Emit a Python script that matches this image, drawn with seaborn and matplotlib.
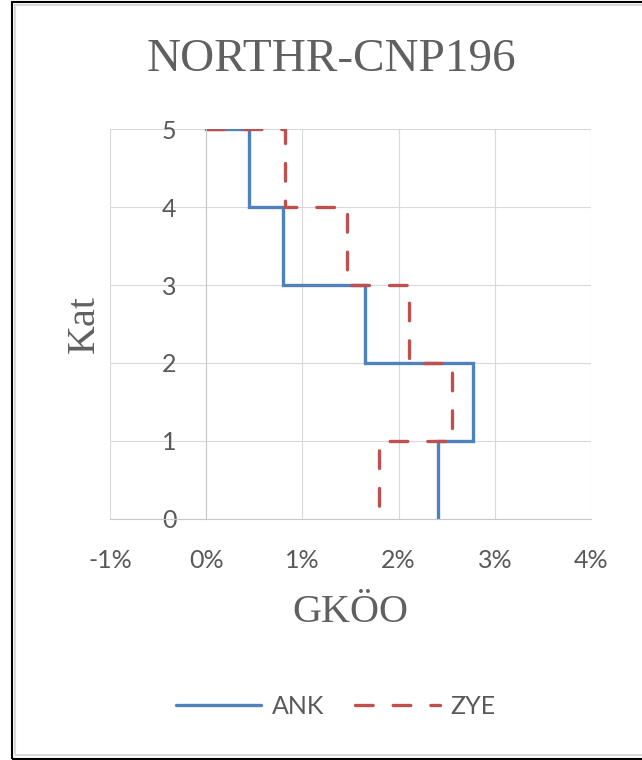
import numpy as np
import pandas as pd
import matplotlib
matplotlib.use("Agg")
import matplotlib.pyplot as plt
import seaborn as sns
from matplotlib.patches import Rectangle
from matplotlib.ticker import FuncFormatter

# Story levels (floor boundaries) and story drift ratios (%) for stories 1..5
stories = [0, 1, 2, 3, 4, 5]
ank = [2.41, 2.77, 1.65, 0.80, 0.45]
zye = [1.80, 2.56, 2.11, 1.465, 0.815]
series_names = ["ANK", "ZYE"]
x_ticks = [-1, 0, 1, 2, 3, 4]
y_ticks = [0, 1, 2, 3, 4, 5]

title = "NORTHR-CNP196"
x_label = "GKÖO"
y_label = "Kat"


def step_profile(values):
    """Turn per-story values into a stepped drift profile, top to bottom."""
    xs, ys = [0.0], [stories[-1]]
    for i in range(len(values) - 1, -1, -1):
        xs += [values[i], values[i]]
        ys += [stories[i + 1], stories[i]]
    return xs, ys


frames = []
for name, vals in zip(series_names, [ank, zye]):
    xs, ys = step_profile(vals)
    frames.append(pd.DataFrame({"drift": xs, "level": ys, "series": name}))
df = pd.concat(frames, ignore_index=True)

sns.set_style("white")
plt.rcParams["font.family"] = ["Lato", "DejaVu Sans"]
plt.rcParams["lines.dash_capstyle"] = "round"
plt.rcParams["lines.solid_joinstyle"] = "miter"

W, H = 642, 760
fig = plt.figure(figsize=(W / 100, H / 100), dpi=100)

# plot area in pixel terms
left, right, top, bottom = 110, 591, 129.3, 518.7
ax = fig.add_axes([left / W, 1 - bottom / H, (right - left) / W, (bottom - top) / H])

palette = {"ANK": "#4F81BD", "ZYE": "#C0504D"}
dashes = {"ANK": "", "ZYE": (5.3, 6.0)}
sns.lineplot(data=df, x="drift", y="level", hue="series", style="series",
             palette=palette, dashes=dashes, sort=False, estimator=None,
             linewidth=2.4, ax=ax, legend=True)

ax.set_xlim(x_ticks[0], x_ticks[-1])
ax.set_ylim(y_ticks[0], y_ticks[-1])
ax.set_xticks(x_ticks)
ax.set_yticks(y_ticks)
ax.xaxis.set_major_formatter(FuncFormatter(lambda v, p: f"{v:.0f}%"))
ax.grid(True, color="#D9D9D9", linewidth=0.8)
ax.set_axisbelow(True)

for s in ["top", "right"]:
    ax.spines[s].set_visible(False)
ax.spines["left"].set_position(("data", 0))
ax.spines["left"].set_color("#C8C8C8")
ax.spines["bottom"].set_color("#C8C8C8")
ax.spines["left"].set_linewidth(0.8)
ax.spines["bottom"].set_linewidth(0.8)

ax.tick_params(axis="both", length=0, labelsize=18, labelcolor="#595959")
ax.tick_params(axis="y", pad=21.5)
ax.tick_params(axis="x", pad=22)
ax.set_xlabel("")
ax.set_ylabel("")

serif = ["Liberation Serif", "DejaVu Serif"]
fig.text(331 / W, 1 - 60 / H, title, ha="center", va="center",
         fontsize=34, color="#606060", family=serif)
fig.text(350 / W, 1 - 612 / H, x_label, ha="center", va="center",
         fontsize=29, color="#606060", family=serif)
fig.text(84 / W, 1 - 324 / H, y_label, ha="center", va="center",
         fontsize=29, color="#606060", family=serif, rotation=90)

handles, labels = ax.get_legend_handles_labels()
ax.legend_.remove()
leg = fig.legend(handles, labels, loc="center", ncol=2,
                 bbox_to_anchor=(336 / W, 1 - 706 / H), frameon=False,
                 fontsize=18, handlelength=3.4, handletextpad=0.45,
                 columnspacing=1.2)
for t in leg.get_texts():
    t.set_color("#595959")

# chart frame: outer dark edge with a light inner rim
fig.add_artist(Rectangle((12 / W, 1 - 758.5 / H), 700 / W, 756.5 / H,
                         transform=fig.transFigure, fill=False,
                         edgecolor="black", linewidth=1.5))
fig.add_artist(Rectangle((15 / W, 1 - 754.5 / H), 700 / W, 749.5 / H,
                         transform=fig.transFigure, fill=False,
                         edgecolor="#D9D9D9", linewidth=1.5))

fig.savefig("out.png", dpi=100)
